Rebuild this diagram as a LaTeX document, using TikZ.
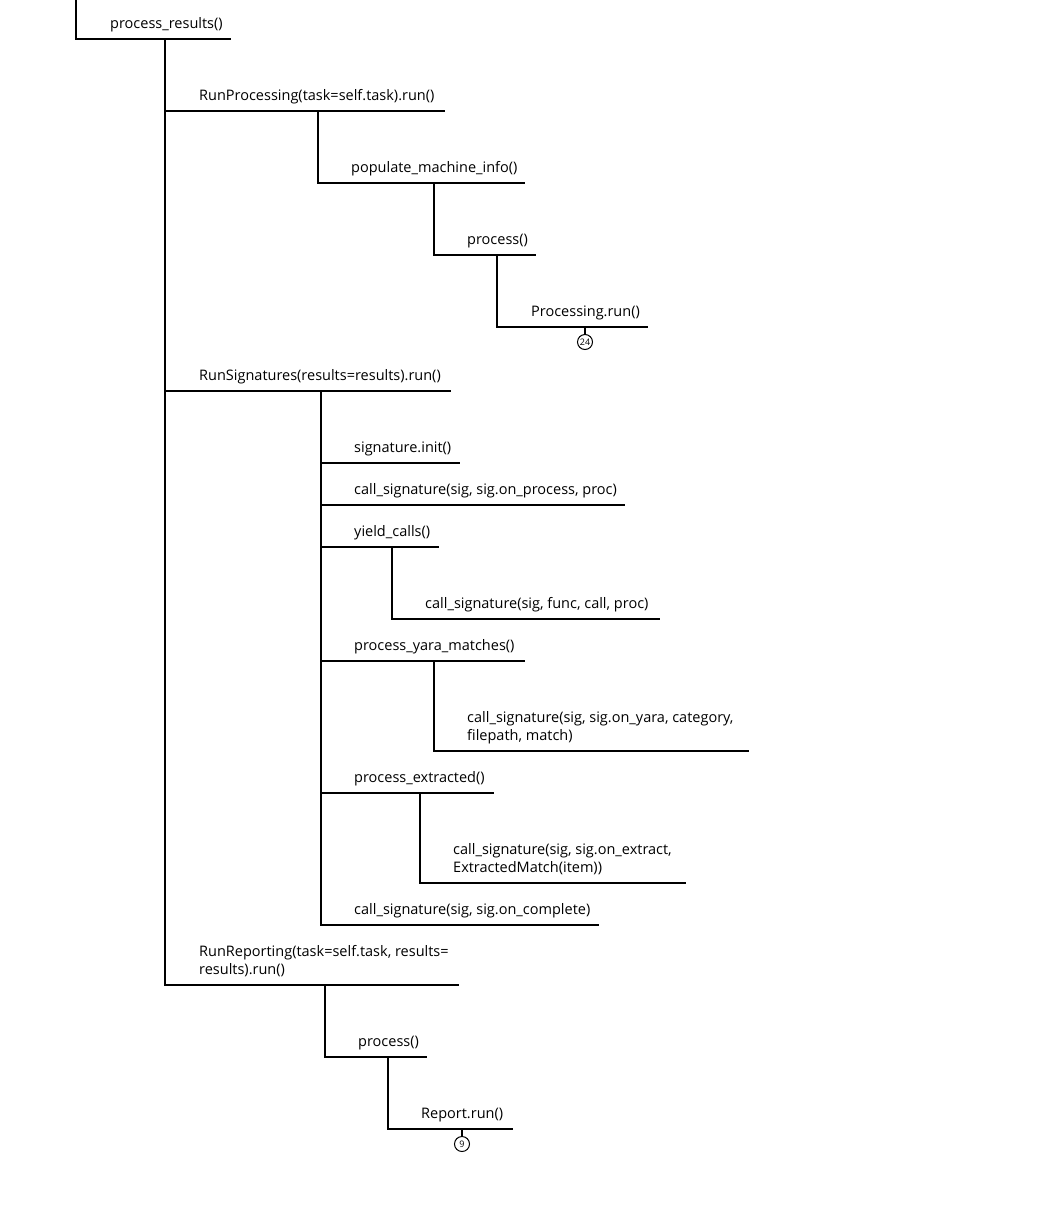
\documentclass[tikz,border=0pt]{standalone}
\usepackage{fontspec}
\setmainfont{Open Sans}
\begin{document}
\begin{tikzpicture}[x=1pt,y=-1pt,
  tree/.style={line width=2pt,black},
  lbl/.style={anchor=base west,inner sep=0pt,yshift=-1.5pt,font=\fontsize{14.5}{18}\selectfont},
  badge/.style={circle,draw,line width=1pt,minimum size=15pt,inner sep=0pt,font=\fontsize{9}{10}\selectfont}]
\useasboundingbox (0,0) rectangle (1044,1226);
% level 0
\coordinate (c0a) at (76,0); \coordinate (c0b) at (231,39);
\draw[tree] (c0a) |- (c0b);
\node[lbl] (n0) at (110,27) {process\_results()};
% main trunk
\coordinate (t0) at (165,39);
\coordinate (c1b) at (445,111);
\coordinate (c2b) at (451,391);
\coordinate (c3b) at (459,985);
\draw[tree,line width=2.4pt] (t0) |- (c3b);
\draw[tree] (t0|-c1b) -- (c1b);
\draw[tree] (t0|-c2b) -- (c2b);
% RunProcessing
\node[lbl] (n1) at (199,99) {RunProcessing(task=self.task).run()};
\coordinate (c11a) at (318,111); \coordinate (c11b) at (525,183);
\draw[tree] (c11a) |- (c11b);
\node[lbl] (n11) at (351,171) {populate\_machine\_info()};
\coordinate (c12a) at (434,183); \coordinate (c12b) at (536,255);
\draw[tree] (c12a) |- (c12b);
\node[lbl] (n12) at (467,243) {process()};
\coordinate (c13a) at (497,255); \coordinate (c13b) at (648,327);
\draw[tree] (c13a) |- (c13b);
\node[lbl] (n13) at (531,315) {Processing.run()};
\coordinate (s13) at (585,327);
\node[badge] (b13) at (585,342) {24};
\draw[line width=1.5pt] (s13) -- (b13.north);
% RunSignatures
\node[lbl] (n2) at (199,379) {RunSignatures(results=results).run()};
\coordinate (t2) at (321,391); \coordinate (c27b) at (599,925);
\draw[tree] (t2) |- (c27b);
\coordinate (c21b) at (460,463);
\draw[tree] (t2|-c21b) -- (c21b);
\node[lbl] (n21) at (354,451) {signature.init()};
\coordinate (c22b) at (625,505);
\draw[tree] (t2|-c22b) -- (c22b);
\node[lbl] (n22) at (354,493) {call\_signature(sig, sig.on\_process, proc)};
\coordinate (c23b) at (439,547);
\draw[tree] (t2|-c23b) -- (c23b);
\node[lbl] (n23) at (354,535) {yield\_calls()};
\coordinate (c231a) at (392,547); \coordinate (c231b) at (660,619);
\draw[tree] (c231a) |- (c231b);
\node[lbl] (n231) at (425,607) {call\_signature(sig, func, call, proc)};
\coordinate (c24b) at (525,661);
\draw[tree] (t2|-c24b) -- (c24b);
\node[lbl] (n24) at (354,649) {process\_yara\_matches()};
\coordinate (c241a) at (434,661); \coordinate (c241b) at (749,751);
\draw[tree] (c241a) |- (c241b);
\node[lbl] (n241) at (467,739) {\begin{tabular}[b]{@{}l@{}}call\_signature(sig, sig.on\_yara, category,\\filepath, match)\end{tabular}};
\coordinate (c25b) at (494,793);
\draw[tree] (t2|-c25b) -- (c25b);
\node[lbl] (n25) at (354,781) {process\_extracted()};
\coordinate (c251a) at (420,793); \coordinate (c251b) at (686,883);
\draw[tree] (c251a) |- (c251b);
\node[lbl] (n251) at (453,871) {\begin{tabular}[b]{@{}l@{}}call\_signature(sig, sig.on\_extract,\\ExtractedMatch(item))\end{tabular}};
\node[lbl] (n27) at (354,913) {call\_signature(sig, sig.on\_complete)};
% RunReporting
\node[lbl] (n3) at (199,973) {\begin{tabular}[b]{@{}l@{}}RunReporting(task=self.task, results=\\results).run()\end{tabular}};
\coordinate (c31a) at (325,985); \coordinate (c31b) at (427,1057);
\draw[tree] (c31a) |- (c31b);
\node[lbl] (n31) at (358,1045) {process()};
\coordinate (c32a) at (388,1057); \coordinate (c32b) at (513,1129);
\draw[tree] (c32a) |- (c32b);
\node[lbl] (n32) at (421,1117) {Report.run()};
\coordinate (s32) at (462,1129);
\node[badge] (b32) at (462,1144) {9};
\draw[line width=1.5pt] (s32) -- (b32.north);
\end{tikzpicture}
\end{document}
